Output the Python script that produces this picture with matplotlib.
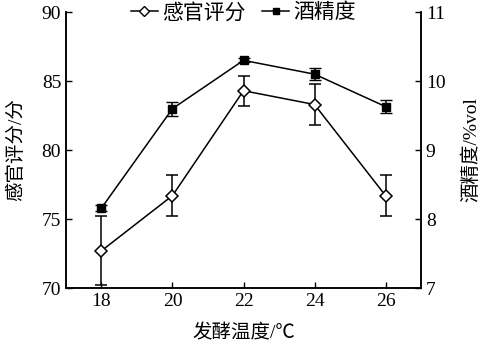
import matplotlib
matplotlib.use("Agg")
import matplotlib.pyplot as plt
from matplotlib.lines import Line2D

plt.rcParams['font.family'] = ['Liberation Serif', 'Noto Sans CJK SC']

temp = [18, 20, 22, 24, 26]
score = [72.7, 76.7, 84.3, 83.3, 76.7]
score_err = [2.5, 1.5, 1.1, 1.5, 1.5]
alcohol = [8.16, 9.60, 10.30, 10.10, 9.63]
alcohol_err = [0.04, 0.10, 0.03, 0.09, 0.10]

fig = plt.figure(figsize=(4.87, 3.55), dpi=100)
ax1 = fig.add_axes([0.1355, 0.1887, 0.729, 0.7773])
ax2 = ax1.twinx()

ax1.errorbar(temp, score, yerr=score_err, color="black", lw=1.1, elinewidth=1.1,
             capsize=4, marker="D", markersize=6, mfc="white", mec="black", mew=1.1)
ax2.errorbar(temp, alcohol, yerr=alcohol_err, color="black", lw=1.1, elinewidth=1.1,
             capsize=4, marker="s", markersize=5.5, mfc="black", mec="black")

ax1.set_xlim(17, 27)
ax1.set_ylim(70, 90)
ax2.set_ylim(7, 11)
ax1.set_xticks(temp)
ax1.set_yticks([70, 75, 80, 85, 90])
ax2.set_yticks([7, 8, 9, 10, 11])

for ax in (ax1, ax2):
    ax.spines["top"].set_visible(False)
    ax.tick_params(direction="in", length=4, width=1, labelsize=14)
    for s in ax.spines.values():
        s.set_linewidth(1.1)

ax1.set_xlabel("发酵温度/℃", fontsize=14, labelpad=10)
ax1.set_ylabel("感官评分/分", fontsize=14, labelpad=12)
ax2.set_ylabel("酒精度/%vol", fontsize=14, labelpad=12)

handles = [
    Line2D([], [], color="black", lw=1.1, marker="D", markersize=5, mfc="white", mec="black"),
    Line2D([], [], color="black", lw=1.1, marker="s", markersize=5, mfc="black"),
]
ax1.legend(handles, ["感官评分", "酒精度"], loc="center", bbox_to_anchor=(0.5, 0.995),
           ncol=2, frameon=False, fontsize=15, handlelength=1.3, handletextpad=0.2,
           columnspacing=0.8, borderpad=0)

fig.savefig("out.png", dpi=100)
